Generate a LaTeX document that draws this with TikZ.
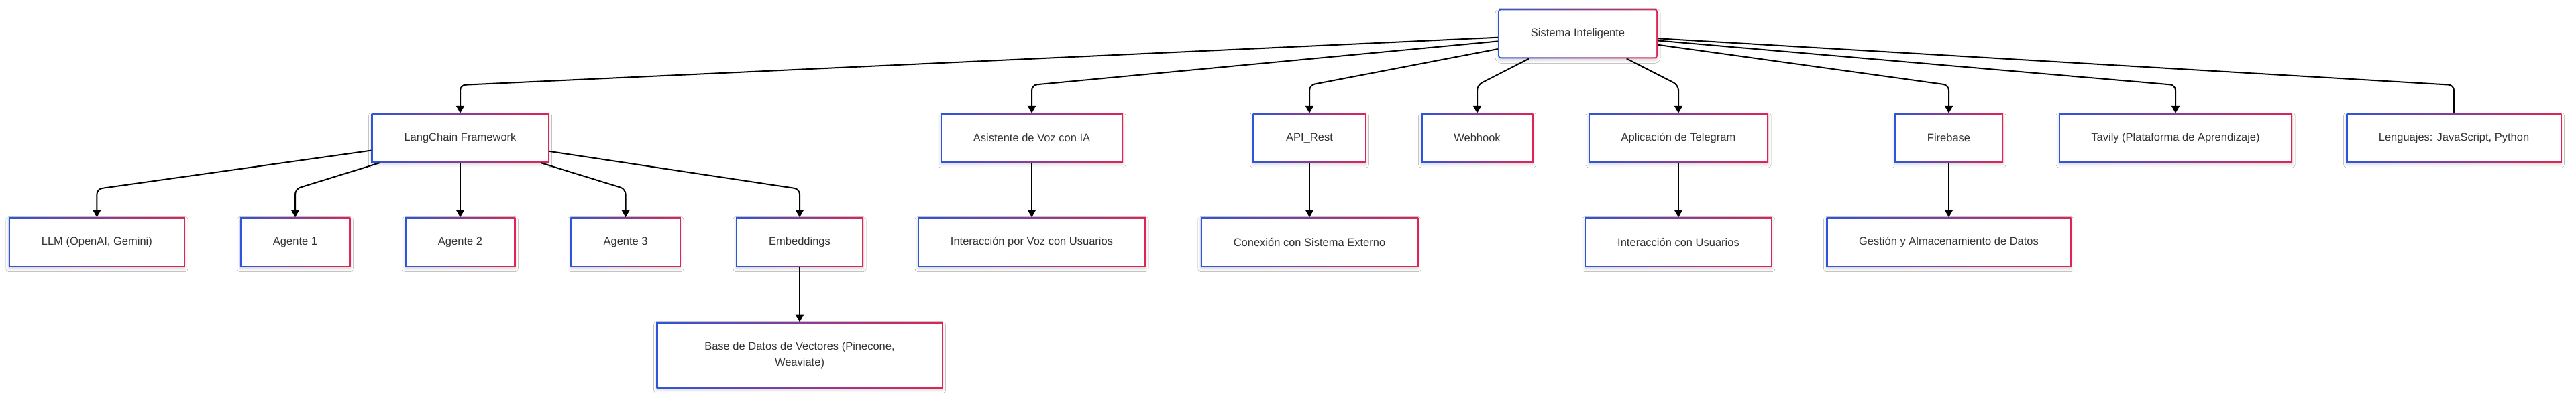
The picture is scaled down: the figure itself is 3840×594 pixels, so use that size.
\documentclass[tikz,border=0pt]{standalone}
\usepackage{fontspec}
\setmainfont{Liberation Sans}
\usetikzlibrary{arrows.meta,shadows.blur}
\definecolor{bluec}{RGB}{45,85,220}
\definecolor{redc}{RGB}{225,35,85}
\definecolor{textc}{RGB}{51,51,51}
\newcommand{\boxfont}{\fontsize{16.5}{24}\selectfont}
\begin{document}
\begin{tikzpicture}[x=1pt,y=-1pt,
  box/.style={rectangle, inner sep=0pt, minimum height=74pt, text=textc,
    font=\boxfont, align=center, left color=bluec, right color=redc,
    blur shadow={shadow xshift=0pt, shadow yshift=-3pt, shadow blur radius=4pt, shadow opacity=15},
    path picture={\fill[white] ([shift={(2pt,-2pt)}]path picture bounding box.north west)
      rectangle ([shift={(-2pt,2pt)}]path picture bounding box.south east);}},
  rootbox/.style={box, rounded corners=4pt,
    path picture={\fill[white, rounded corners=2.5pt] ([shift={(2pt,-2pt)}]path picture bounding box.north west)
      rectangle ([shift={(-2pt,2pt)}]path picture bounding box.south east);}},
  link/.style={draw=black, line width=2pt, rounded corners=8pt},
  edge/.style={link, -{Triangle[width=12pt,length=11pt]}}]
\useasboundingbox (0,0) rectangle (3840,594);
\fill[white] (0,0) rectangle (3840,594);

% level 1
\node[rootbox, minimum width=238pt] (root) at (2352,50.3) {Sistema Inteligente};

% level 2
\node[box, minimum width=265pt] (lc)   at (686,206) {LangChain Framework};
\node[box, minimum width=272pt] (asis) at (1538,206) {Asistente de Voz con IA};
\node[box, minimum width=169pt] (api)  at (1952,206) {API\_Rest};
\node[box, minimum width=167pt] (web)  at (2202,206) {Webhook};
\node[box, minimum width=268pt] (tel)  at (2502,206) {Aplicación de Telegram};
\node[box, minimum width=162pt] (fire) at (2905,206) {Firebase};
\node[box, minimum width=348pt] (tav)  at (3243,206) {Tavily (Plataforma de Aprendizaje)};
\node[box, minimum width=321pt] (len)  at (3658,206) {Lenguajes: JavaScript, Python};

% level 3
\node[box, minimum width=263pt] (llm)  at (144.4,361.6) {LLM (OpenAI, Gemini)};
\node[box, minimum width=164.5pt] (a1) at (440,361.6) {Agente 1};
\node[box, minimum width=164.5pt] (a2) at (686,361.6) {Agente 2};
\node[box, minimum width=164.5pt] (a3) at (932.6,361.6) {Agente 3};
\node[box, minimum width=190pt] (emb)  at (1192,361.6) {Embeddings};
\node[box, minimum width=340pt] (ivoz) at (1538,361.6) {Interacción por Voz con Usuarios};
\node[box, minimum width=324.5pt] (con) at (1952,361.6) {Conexión con Sistema Externo};
\node[box, minimum width=279.5pt] (iusr) at (2502,361.6) {Interacción con Usuarios};
\node[box, minimum width=365pt] (gest) at (2905,361.6) {Gestión y Almacenamiento de Datos};

% level 4
\node[box, minimum width=427pt, minimum height=98.6pt] (base) at (1192,530) {Base de Datos de Vectores (Pinecone,\\Weaviate)};

% edges from root
\draw[edge] (root) -- (686,127) -- (lc.north);
\draw[edge] (root) -- (1538,127) -- (asis.north);
\draw[edge] (root) -- (1952,127) -- (api.north);
\draw[edge] (root) -- (2202,127) -- (web.north);
\draw[edge] (root) -- (2502,127) -- (tel.north);
\draw[edge] (root) -- (2905,127) -- (fire.north);
\draw[edge] (root) -- (3243,127) -- (tav.north);
\draw[link] (root) -- (3658,127) -- (len.north);

% edges from LangChain
\draw[edge] (lc) -- (144.4,282) -- (llm.north);
\draw[edge] (lc) -- (440,282) -- (a1.north);
\draw[edge] (lc) -- (a2);
\draw[edge] (lc) -- (932.6,282) -- (a3.north);
\draw[edge] (lc) -- (1192,282) -- (emb.north);

% other edges
\draw[edge] (emb) -- (base);
\draw[edge] (asis) -- (ivoz);
\draw[edge] (api) -- (con);
\draw[edge] (tel) -- (iusr);
\draw[edge] (fire) -- (gest);
\end{tikzpicture}
\end{document}
